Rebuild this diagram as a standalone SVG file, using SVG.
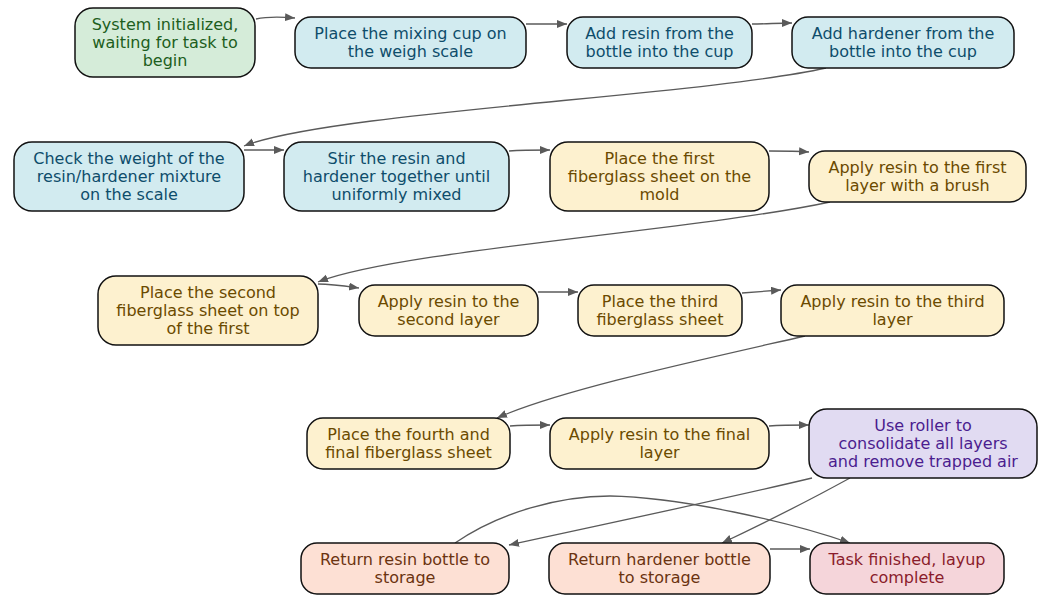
<svg xmlns="http://www.w3.org/2000/svg" width="1043" height="595" viewBox="0 0 1043 595">
<style>
.n rect{stroke:#111;stroke-width:1.5}
.n text{font-family:"DejaVu Sans",sans-serif;font-size:16px;text-anchor:middle}
.g rect{fill:#d5ecd9}.g text{fill:#1d5e20}
.b rect{fill:#d2ebf0}.b text{fill:#0e4d6b}
.y rect{fill:#fdf1cf}.y text{fill:#6b4a00}
.p rect{fill:#e1dbf2}.p text{fill:#4b1d8f}
.o rect{fill:#fde0d4}.o text{fill:#6b3310}
.r rect{fill:#f5d5da}.r text{fill:#8a1c2b}
#edges path{fill:none;stroke:#5a5a5a;stroke-width:1.3;marker-end:url(#ah)}
</style>
<defs>
<marker id="ah" markerUnits="userSpaceOnUse" markerWidth="11" markerHeight="9" refX="10" refY="4" orient="auto">
<path d="M0,0 L10,4 L0,8 z" fill="#5a5a5a"/>
</marker>
</defs>
<rect width="1043" height="595" fill="#fff"/>
<g id="edges">
<path d="M256,19 C270,16 283,17 295,18"/>
<path d="M526,24 C540,24 553,24 567,24"/>
<path d="M752,24 C765,24 779,23 792,23"/>
<path d="M826,68 C700,96 330,112 244,146"/>
<path d="M244,150 L284,150"/>
<path d="M509,151 C522,150 536,150 550,150"/>
<path d="M769,151 C782,151 796,151 809,152"/>
<path d="M830,202 C700,230 400,250 318,282"/>
<path d="M318,284 C332,284 345,286 359,288"/>
<path d="M538,292 L578,292"/>
<path d="M742,293 C755,292 768,291 781,290"/>
<path d="M805,336 C700,360 560,390 497,418"/>
<path d="M510,426 C523,425 537,425 550,425"/>
<path d="M769,426 C782,425 796,425 809,425"/>
<path d="M812,478 C720,500 600,525 509,545"/>
<path d="M850,478 C810,500 760,525 722,543"/>
<path d="M455,543 C500,512 560,496 610,496 C680,497 790,522 850,543"/>
<path d="M770,549 C783,549 797,549 810,549"/>
</g>
<g id="n1" class="n g"><rect x="75" y="8" width="180" height="69" rx="18"/><text x="165" y="29.5">System initialized,</text><text x="165" y="47.5">waiting for task to</text><text x="165" y="65.5">begin</text></g>
<g id="n2" class="n b"><rect x="295" y="17" width="231" height="51" rx="16"/><text x="410.5" y="38.5">Place the mixing cup on</text><text x="410.5" y="56.5">the weigh scale</text></g>
<g id="n3" class="n b"><rect x="567" y="17" width="185" height="51" rx="16"/><text x="659.5" y="38.5">Add resin from the</text><text x="659.5" y="56.5">bottle into the cup</text></g>
<g id="n4" class="n b"><rect x="792" y="17" width="222" height="51" rx="16"/><text x="903" y="38.5">Add hardener from the</text><text x="903" y="56.5">bottle into the cup</text></g>
<g id="n5" class="n b"><rect x="14" y="142" width="230" height="69" rx="18"/><text x="129" y="163.5">Check the weight of the</text><text x="129" y="181.5">resin/hardener mixture</text><text x="129" y="199.5">on the scale</text></g>
<g id="n6" class="n b"><rect x="284" y="142" width="225" height="69" rx="18"/><text x="396.5" y="163.5">Stir the resin and</text><text x="396.5" y="181.5">hardener together until</text><text x="396.5" y="199.5">uniformly mixed</text></g>
<g id="n7" class="n y"><rect x="550" y="142" width="219" height="69" rx="18"/><text x="659.5" y="163.5">Place the first</text><text x="659.5" y="181.5">fiberglass sheet on the</text><text x="659.5" y="199.5">mold</text></g>
<g id="n8" class="n y"><rect x="809" y="151" width="217" height="51" rx="16"/><text x="917.5" y="172.5">Apply resin to the first</text><text x="917.5" y="190.5">layer with a brush</text></g>
<g id="n9" class="n y"><rect x="98" y="276" width="220" height="69" rx="18"/><text x="208" y="297.5">Place the second</text><text x="208" y="315.5">fiberglass sheet on top</text><text x="208" y="333.5">of the first</text></g>
<g id="n10" class="n y"><rect x="359" y="285" width="179" height="51" rx="16"/><text x="448.5" y="306.5">Apply resin to the</text><text x="448.5" y="324.5">second layer</text></g>
<g id="n11" class="n y"><rect x="578" y="285" width="164" height="51" rx="16"/><text x="660" y="306.5">Place the third</text><text x="660" y="324.5">fiberglass sheet</text></g>
<g id="n12" class="n y"><rect x="781" y="285" width="223" height="51" rx="16"/><text x="892.5" y="306.5">Apply resin to the third</text><text x="892.5" y="324.5">layer</text></g>
<g id="n13" class="n y"><rect x="307" y="418" width="203" height="51" rx="16"/><text x="408.5" y="439.5">Place the fourth and</text><text x="408.5" y="457.5">final fiberglass sheet</text></g>
<g id="n14" class="n y"><rect x="550" y="418" width="219" height="51" rx="16"/><text x="659.5" y="439.5">Apply resin to the final</text><text x="659.5" y="457.5">layer</text></g>
<g id="n15" class="n p"><rect x="809" y="409" width="228" height="69" rx="18"/><text x="923" y="430.5">Use roller to</text><text x="923" y="448.5">consolidate all layers</text><text x="923" y="466.5">and remove trapped air</text></g>
<g id="n16" class="n o"><rect x="301" y="543" width="208" height="51" rx="16"/><text x="405" y="564.5">Return resin bottle to</text><text x="405" y="582.5">storage</text></g>
<g id="n17" class="n o"><rect x="549" y="543" width="221" height="51" rx="16"/><text x="659.5" y="564.5">Return hardener bottle</text><text x="659.5" y="582.5">to storage</text></g>
<g id="n18" class="n r"><rect x="810" y="543" width="194" height="51" rx="16"/><text x="907" y="564.5">Task finished, layup</text><text x="907" y="582.5">complete</text></g>
</svg>
